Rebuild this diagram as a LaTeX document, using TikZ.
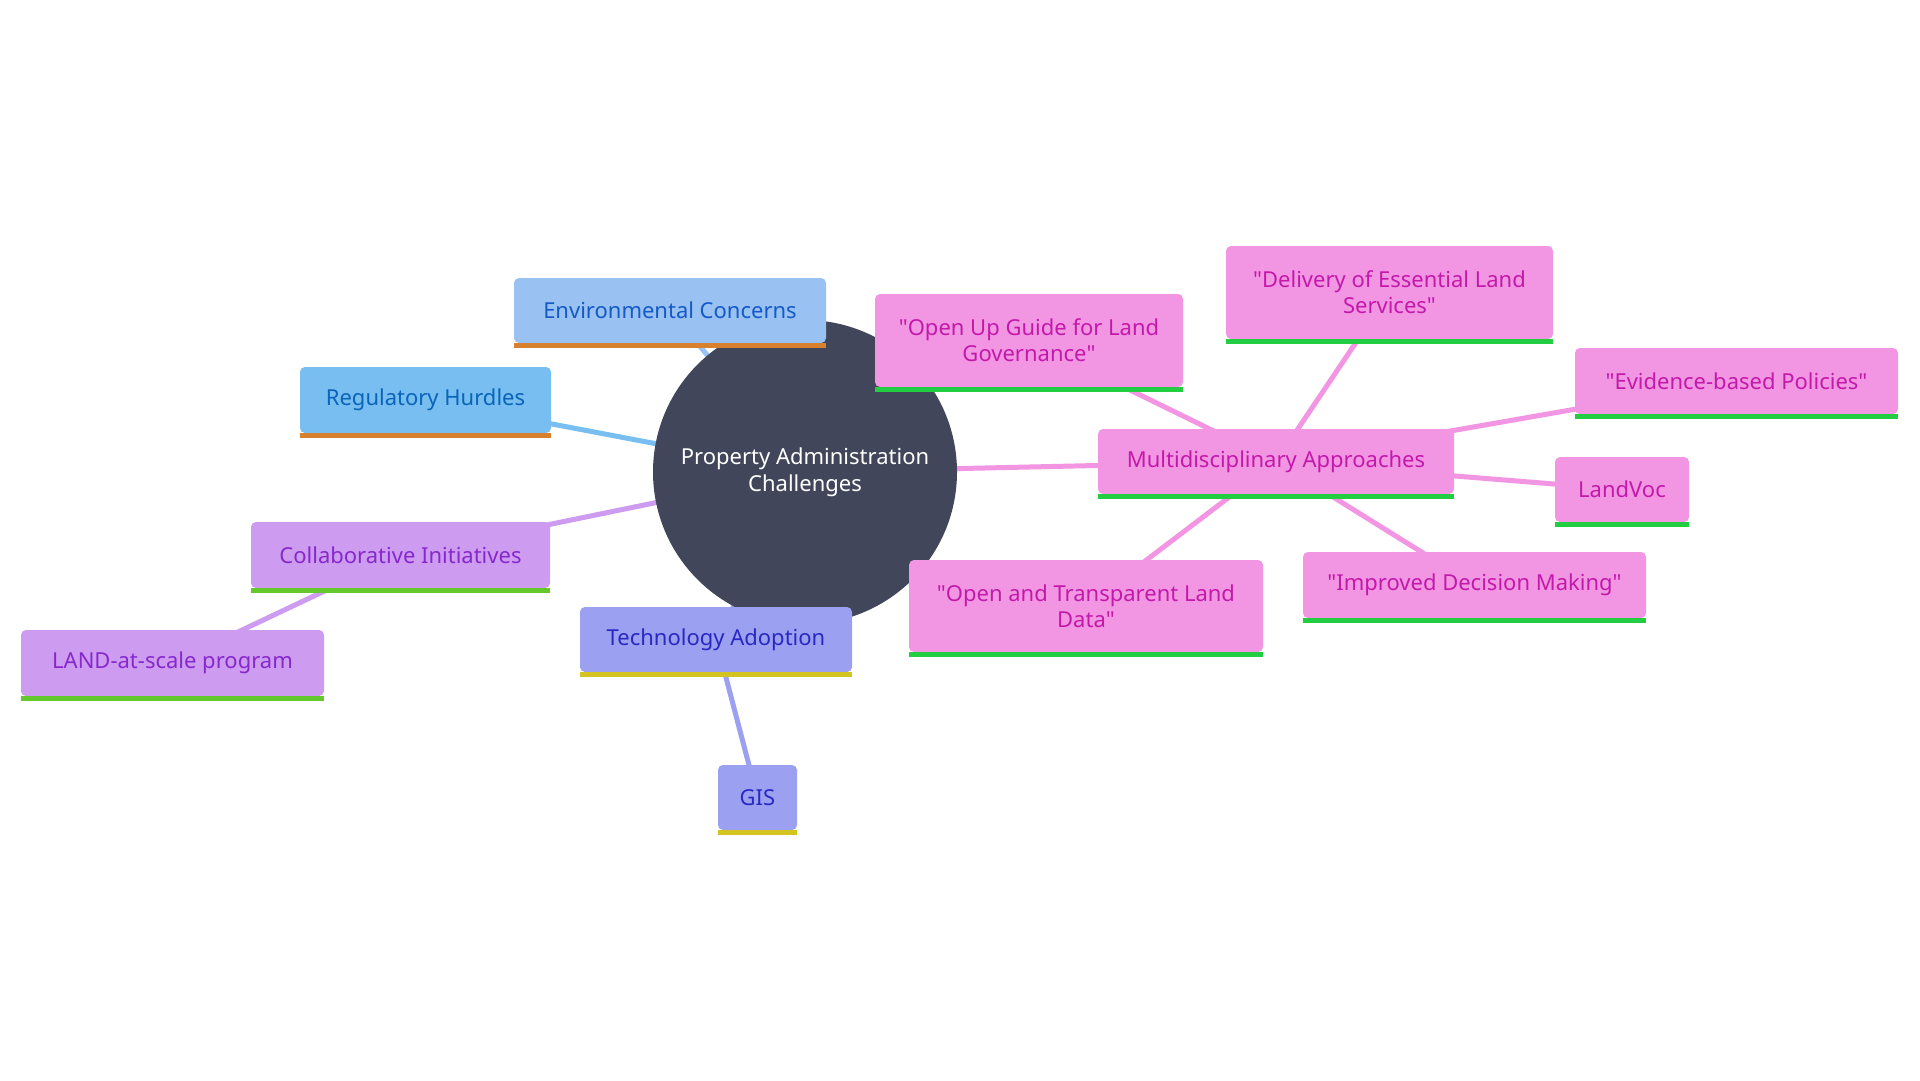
\documentclass[tikz,border=0pt]{standalone}
\usepackage{fontspec}
\setmainfont{Noto Sans}
\pgfdeclarelayer{background}
\pgfsetlayers{background,main}
\definecolor{hub}{RGB}{65,70,90}
\definecolor{envF}{RGB}{153,193,241}\definecolor{envT}{RGB}{20,90,200}
\definecolor{regF}{RGB}{120,190,240}\definecolor{regT}{RGB}{10,100,185}
\definecolor{colF}{RGB}{205,155,240}\definecolor{colT}{RGB}{135,40,205}
\definecolor{tecF}{RGB}{155,160,240}\definecolor{tecT}{RGB}{40,40,195}
\definecolor{mulF}{RGB}{242,150,227}\definecolor{mulT}{RGB}{195,25,170}
\definecolor{orangeBar}{RGB}{215,128,45}
\definecolor{limeBar}{RGB}{100,200,45}
\definecolor{yellowBar}{RGB}{212,196,33}
\definecolor{greenBar}{RGB}{35,205,65}
\tikzset{
  leaf/.style={rectangle, rounded corners=5pt, inner sep=0pt, align=center,
    font=\fontsize{22}{26}\selectfont},
  envbox/.style={leaf, fill=envF, text=envT},
  regbox/.style={leaf, fill=regF, text=regT},
  colbox/.style={leaf, fill=colF, text=colT},
  tecbox/.style={leaf, fill=tecF, text=tecT},
  mulbox/.style={leaf, fill=mulF, text=mulT},
  link/.style={line width=5pt},
}
\newcommand{\barunder}[2]{\fill[#2] (#1.south west) rectangle ([yshift=-5pt]#1.south east);}
\newcommand{\qq}{\textquotedbl}
\begin{document}
\begin{tikzpicture}[x=1pt,y=-1pt]
\useasboundingbox (0,0) rectangle (1920,1080);
% hub
\node[circle, fill=hub, minimum size=304pt, inner sep=0pt, text=white, align=center,
  font=\fontsize{22}{27}\selectfont] (hub) at (805,472) {Property Administration\\Challenges};
% nodes
\node[envbox, minimum width=312pt, minimum height=65pt] (env) at (670,310.5) {Environmental Concerns};
\node[regbox, minimum width=251pt, minimum height=66pt] (reg) at (425.5,400) {Regulatory Hurdles};
\node[colbox, minimum width=299pt, minimum height=66pt] (col) at (400.5,555) {Collaborative Initiatives};
\node[colbox, minimum width=303pt, minimum height=66pt] (land) at (172.5,663) {LAND-at-scale program};
\node[tecbox, minimum width=272pt, minimum height=65pt] (tec) at (716,639.5) {Technology Adoption};
\node[tecbox, minimum width=79pt, minimum height=65pt] (gis) at (757.5,797.5) {GIS};
\node[mulbox, minimum width=356pt, minimum height=65pt] (mul) at (1276,461.5) {Multidisciplinary Approaches};
\node[mulbox, minimum width=308pt, minimum height=93pt] (openup) at (1029,340.5) {\qq Open Up Guide for Land\\Governance\qq};
\node[mulbox, minimum width=327pt, minimum height=93pt] (deliv) at (1389.5,292.5) {\qq Delivery of Essential Land\\Services\qq};
\node[mulbox, minimum width=323pt, minimum height=66pt] (evid) at (1736.5,381) {\qq Evidence-based Policies\qq};
\node[mulbox, minimum width=134pt, minimum height=65pt] (landvoc) at (1622,489.5) {LandVoc};
\node[mulbox, minimum width=354pt, minimum height=92pt] (opentr) at (1086,606) {\qq Open and Transparent Land\\Data\qq};
\node[mulbox, minimum width=343pt, minimum height=66pt] (improv) at (1474.5,585) {\qq Improved Decision Making\qq};
% bars
\barunder{env}{orangeBar}
\barunder{reg}{orangeBar}
\barunder{col}{limeBar}
\barunder{land}{limeBar}
\barunder{tec}{yellowBar}
\barunder{gis}{yellowBar}
\barunder{mul}{greenBar}
\barunder{openup}{greenBar}
\barunder{deliv}{greenBar}
\barunder{evid}{greenBar}
\barunder{landvoc}{greenBar}
\barunder{opentr}{greenBar}
\barunder{improv}{greenBar}
% connectors
\begin{pgfonlayer}{background}
\fill[white] (0,0) rectangle (1920,1080);
\draw[link, envF] (hub.center) -- (env.center);
\draw[link, regF] (hub.center) -- (reg.center);
\draw[link, colF] (hub.center) -- (col.center);
\draw[link, colF] (col.center) -- (land.center);
\draw[link, tecF] (hub.center) -- (tec.center);
\draw[link, tecF] (tec.center) -- (gis.center);
\draw[link, mulF] (hub.center) -- (mul.center);
\draw[link, mulF] (mul.center) -- (openup.center);
\draw[link, mulF] (mul.center) -- (deliv.center);
\draw[link, mulF] (mul.center) -- (evid.center);
\draw[link, mulF] (mul.center) -- (landvoc.center);
\draw[link, mulF] (mul.center) -- (opentr.center);
\draw[link, mulF] (mul.center) -- (improv.center);
\end{pgfonlayer}
\end{tikzpicture}
\end{document}
